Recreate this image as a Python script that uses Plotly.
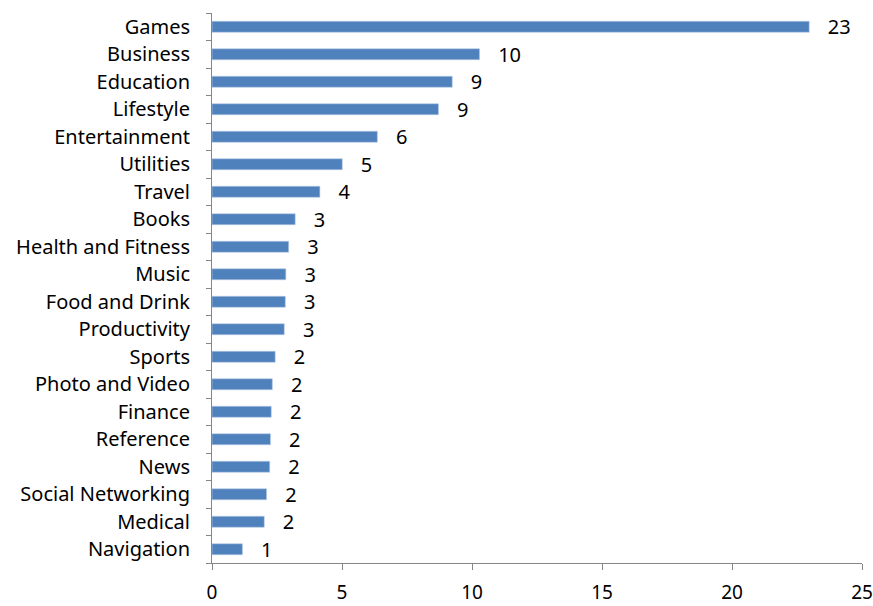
import plotly.graph_objects as go

# App categories, top to bottom as listed on the chart
categories = [
    "Games", "Business", "Education", "Lifestyle", "Entertainment",
    "Utilities", "Travel", "Books", "Health and Fitness", "Music",
    "Food and Drink", "Productivity", "Sports", "Photo and Video",
    "Finance", "Reference", "News", "Social Networking", "Medical",
    "Navigation",
]
# Share values per category (labels are shown rounded to whole numbers)
values = [
    22.97, 10.29, 9.24, 8.71, 6.36,
    5.01, 4.15, 3.20, 2.95, 2.84,
    2.82, 2.78, 2.43, 2.32,
    2.28, 2.25, 2.22, 2.10, 2.01,
    1.17,
]
x_ticks = [0, 5, 10, 15, 20, 25]

FONT = "Noto Sans"
SIZE = 20
AXIS_GREY = "#868686"

fig = go.Figure(
    go.Bar(
        x=values,
        y=categories,
        orientation="h",
        marker=dict(color="#4F81BD", line=dict(color="#B9CDE5", width=0.6)),
        texttemplate="   %{x:.0f}",
        textposition="outside",
        constraintext="none",
        textfont=dict(family=FONT, size=SIZE, color="#000000"),
        cliponaxis=False,
    )
)

fig.update_layout(
    width=873,
    height=606,
    margin=dict(l=212, r=11, t=13, b=43, autoexpand=False),
    paper_bgcolor="white",
    plot_bgcolor="white",
    bargap=0.6,
    showlegend=False,
    uniformtext=dict(mode=False),
    font=dict(family=FONT, size=SIZE, color="#000000"),
)

fig.update_xaxes(
    range=[0, 25],
    tickvals=x_ticks,
    ticks="outside",
    ticklen=6,
    tickcolor=AXIS_GREY,
    showline=True,
    linecolor=AXIS_GREY,
    linewidth=1,
    showgrid=False,
    zeroline=False,
    automargin=False,
    ticklabeloverflow="allow",
    ticklabelstandoff=6,
    tickfont=dict(family=FONT, size=19, color="#000000"),
)

fig.update_yaxes(
    categoryorder="array",
    categoryarray=categories[::-1],
    ticks="outside",
    tickson="boundaries",
    ticklen=5,
    tickcolor=AXIS_GREY,
    showline=True,
    linecolor=AXIS_GREY,
    linewidth=1,
    showgrid=False,
    zeroline=False,
    automargin=False,
    ticklabelstandoff=17,
    tickfont=dict(family=FONT, size=SIZE, color="#000000"),
)

fig.write_html("out.html")
